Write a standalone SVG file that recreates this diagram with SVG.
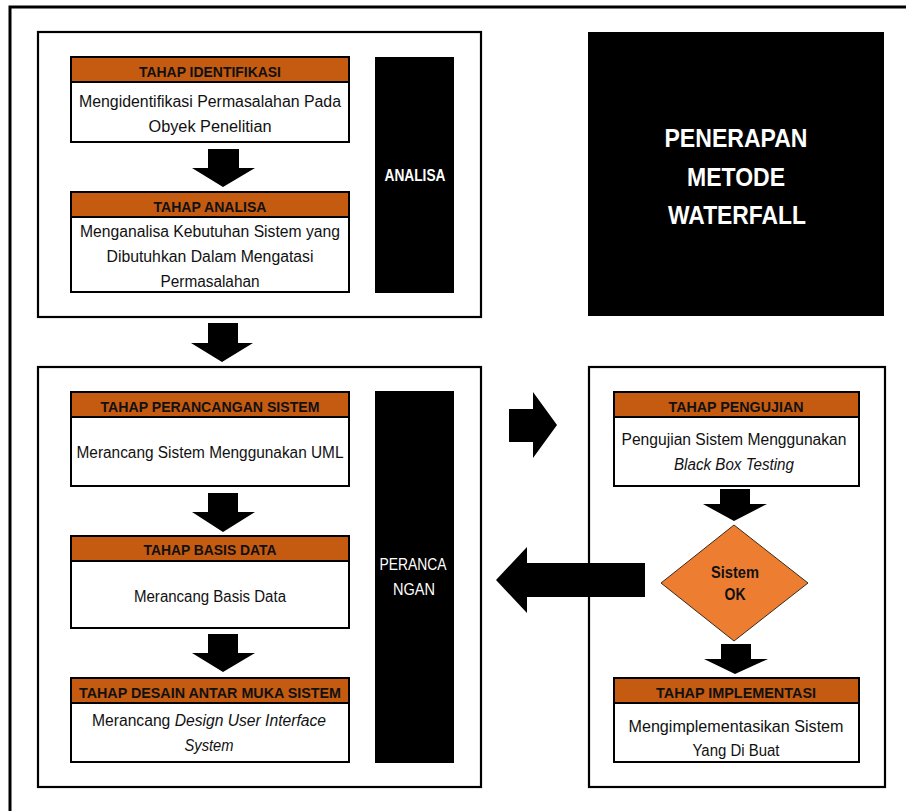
<svg xmlns="http://www.w3.org/2000/svg" width="906" height="811" viewBox="0 0 906 811">
<style>
.frame{fill:none;stroke:#000;stroke-width:2.2}
.box{fill:#fff;stroke:#000;stroke-width:2}
.hdr{fill:#C55A11;stroke:#000;stroke-width:2}
.blk{fill:#000}
.ht{font-family:"Liberation Sans",Arial,sans-serif;font-weight:bold;font-size:15.5px;fill:#111;text-anchor:middle}
.bt{font-family:"Liberation Sans",Arial,sans-serif;font-size:16px;fill:#111;text-anchor:middle}
.wt{font-family:"Liberation Sans",Arial,sans-serif;fill:#fff;text-anchor:middle}
.arr{fill:#000}
</style>
<rect x="0" y="0" width="906" height="811" fill="#fff"/>
<rect x="10" y="7" width="920" height="830" fill="none" stroke="#000" stroke-width="3"/>

<g id="group-analisa">
<rect class="frame" x="38" y="32" width="443" height="285"/>
</g>
<g id="group-perancangan">
<rect class="frame" x="38" y="367" width="443" height="420"/>
</g>
<g id="group-pengujian">
<rect class="frame" x="589" y="367" width="296" height="420"/>
</g>

<g id="node-identifikasi">
<rect class="box" x="71" y="57" width="278" height="85"/>
<rect class="hdr" x="71" y="57" width="278" height="25"/>
<text class="ht" x="210" y="76.5" textLength="142" lengthAdjust="spacingAndGlyphs">TAHAP IDENTIFIKASI</text>
<text class="bt" x="210" y="107" textLength="262" lengthAdjust="spacingAndGlyphs">Mengidentifikasi Permasalahan Pada</text>
<text class="bt" x="210" y="132" textLength="123" lengthAdjust="spacingAndGlyphs">Obyek Penelitian</text>
</g>

<g id="node-analisa">
<rect class="box" x="71" y="192" width="278" height="100"/>
<rect class="hdr" x="71" y="192" width="278" height="25"/>
<text class="ht" x="210" y="211.5" textLength="113" lengthAdjust="spacingAndGlyphs">TAHAP ANALISA</text>
<text class="bt" x="210" y="237" textLength="260" lengthAdjust="spacingAndGlyphs">Menganalisa Kebutuhan Sistem yang</text>
<text class="bt" x="210" y="262" textLength="207" lengthAdjust="spacingAndGlyphs">Dibutuhkan Dalam Mengatasi</text>
<text class="bt" x="210" y="287" textLength="99" lengthAdjust="spacingAndGlyphs">Permasalahan</text>
</g>

<g id="node-analisa-label">
<rect class="blk" x="375" y="57" width="79" height="236"/>
<text class="wt" x="415" y="181" font-size="16" font-weight="bold" textLength="61" lengthAdjust="spacingAndGlyphs">ANALISA</text>
</g>

<g id="node-title">
<rect class="blk" x="588" y="32" width="296" height="284"/>
<text class="wt" x="736" y="147" font-size="25" font-weight="bold" textLength="143" lengthAdjust="spacingAndGlyphs">PENERAPAN</text>
<text class="wt" x="736" y="186" font-size="25" font-weight="bold" textLength="98" lengthAdjust="spacingAndGlyphs">METODE</text>
<text class="wt" x="737" y="224" font-size="25" font-weight="bold" textLength="138" lengthAdjust="spacingAndGlyphs">WATERFALL</text>
</g>

<g id="node-perancangan-sistem">
<rect class="box" x="71" y="392" width="278" height="94"/>
<rect class="hdr" x="71" y="392" width="278" height="25"/>
<text class="ht" x="210" y="411.5" textLength="219" lengthAdjust="spacingAndGlyphs">TAHAP PERANCANGAN SISTEM</text>
<text class="bt" x="210" y="458" textLength="267" lengthAdjust="spacingAndGlyphs">Merancang Sistem Menggunakan UML</text>
</g>

<g id="node-basis-data">
<rect class="box" x="71" y="536" width="278" height="92"/>
<rect class="hdr" x="71" y="536" width="278" height="25"/>
<text class="ht" x="210" y="555" textLength="133" lengthAdjust="spacingAndGlyphs">TAHAP BASIS DATA</text>
<text class="bt" x="210" y="602" textLength="152" lengthAdjust="spacingAndGlyphs">Merancang Basis Data</text>
</g>

<g id="node-desain">
<rect class="box" x="71" y="678" width="278" height="84"/>
<rect class="hdr" x="71" y="678" width="278" height="25"/>
<text class="ht" x="210" y="697.5" textLength="262" lengthAdjust="spacingAndGlyphs">TAHAP DESAIN ANTAR MUKA SISTEM</text>
<text class="bt" x="209" y="725.5" textLength="234" lengthAdjust="spacingAndGlyphs">Merancang  <tspan font-style="italic">Design User Interface</tspan></text>
<text class="bt" x="209" y="750.5" font-style="italic" textLength="49" lengthAdjust="spacingAndGlyphs">System</text>
</g>

<g id="node-perancangan-label">
<rect class="blk" x="375" y="391" width="79" height="372"/>
<text class="wt" x="413" y="570" font-size="16" textLength="67" lengthAdjust="spacingAndGlyphs">PERANCA</text>
<text class="wt" x="414" y="595" font-size="16" textLength="42" lengthAdjust="spacingAndGlyphs">NGAN</text>
</g>

<g id="node-pengujian">
<rect class="box" x="614" y="392" width="245" height="94"/>
<rect class="hdr" x="614" y="392" width="245" height="25"/>
<text class="ht" x="736" y="411.5" textLength="135" lengthAdjust="spacingAndGlyphs">TAHAP PENGUJIAN</text>
<text class="bt" x="734" y="445" textLength="225" lengthAdjust="spacingAndGlyphs">Pengujian Sistem Menggunakan</text>
<text class="bt" x="734" y="470" font-style="italic" textLength="120" lengthAdjust="spacingAndGlyphs">Black Box Testing</text>
</g>

<g id="node-sistem-ok">
<polygon points="734,525 808,583 734,641 661,583" fill="#ED7D31" stroke="#3a2a1a" stroke-width="1"/>
<text x="735" y="578" font-family="'Liberation Sans',Arial,sans-serif" font-size="17" font-weight="bold" fill="#111" text-anchor="middle" textLength="48" lengthAdjust="spacingAndGlyphs">Sistem</text>
<text x="735" y="600" font-family="'Liberation Sans',Arial,sans-serif" font-size="17" font-weight="bold" fill="#111" text-anchor="middle" textLength="21" lengthAdjust="spacingAndGlyphs">OK</text>
</g>

<g id="node-implementasi">
<rect class="box" x="614" y="678" width="245" height="84"/>
<rect class="hdr" x="614" y="678" width="245" height="25"/>
<text class="ht" x="736" y="697.5" textLength="160" lengthAdjust="spacingAndGlyphs">TAHAP IMPLEMENTASI</text>
<text class="bt" x="736" y="731.5" textLength="215" lengthAdjust="spacingAndGlyphs">Mengimplementasikan Sistem</text>
<text class="bt" x="736" y="755.5" textLength="87" lengthAdjust="spacingAndGlyphs">Yang Di Buat</text>
</g>

<g id="connectors">
<polygon class="arr" points="208,149 239,149 239,168 255,168 223,187 192,168 208,168"/>
<polygon class="arr" points="208,323 238,323 238,343 253,343 222,362 191,343 208,343"/>
<polygon class="arr" points="208,493 238,493 238,512 255,512 223,532 192,512 208,512"/>
<polygon class="arr" points="208,634 238,634 238,653 255,653 223,672 192,653 208,653"/>
<polygon class="arr" points="509,409 533,409 533,392 557,425 533,458 533,442 509,442"/>
<polygon class="arr" points="720,489 750,489 750,504 767,504 734,521 703,504 720,504"/>
<polygon class="arr" points="645,563 527,563 527,547 496,580 527,613 527,597 645,597"/>
<polygon class="arr" points="721,644 751,644 751,659 768,659 735,674 704,659 721,659"/>
</g>
</svg>
